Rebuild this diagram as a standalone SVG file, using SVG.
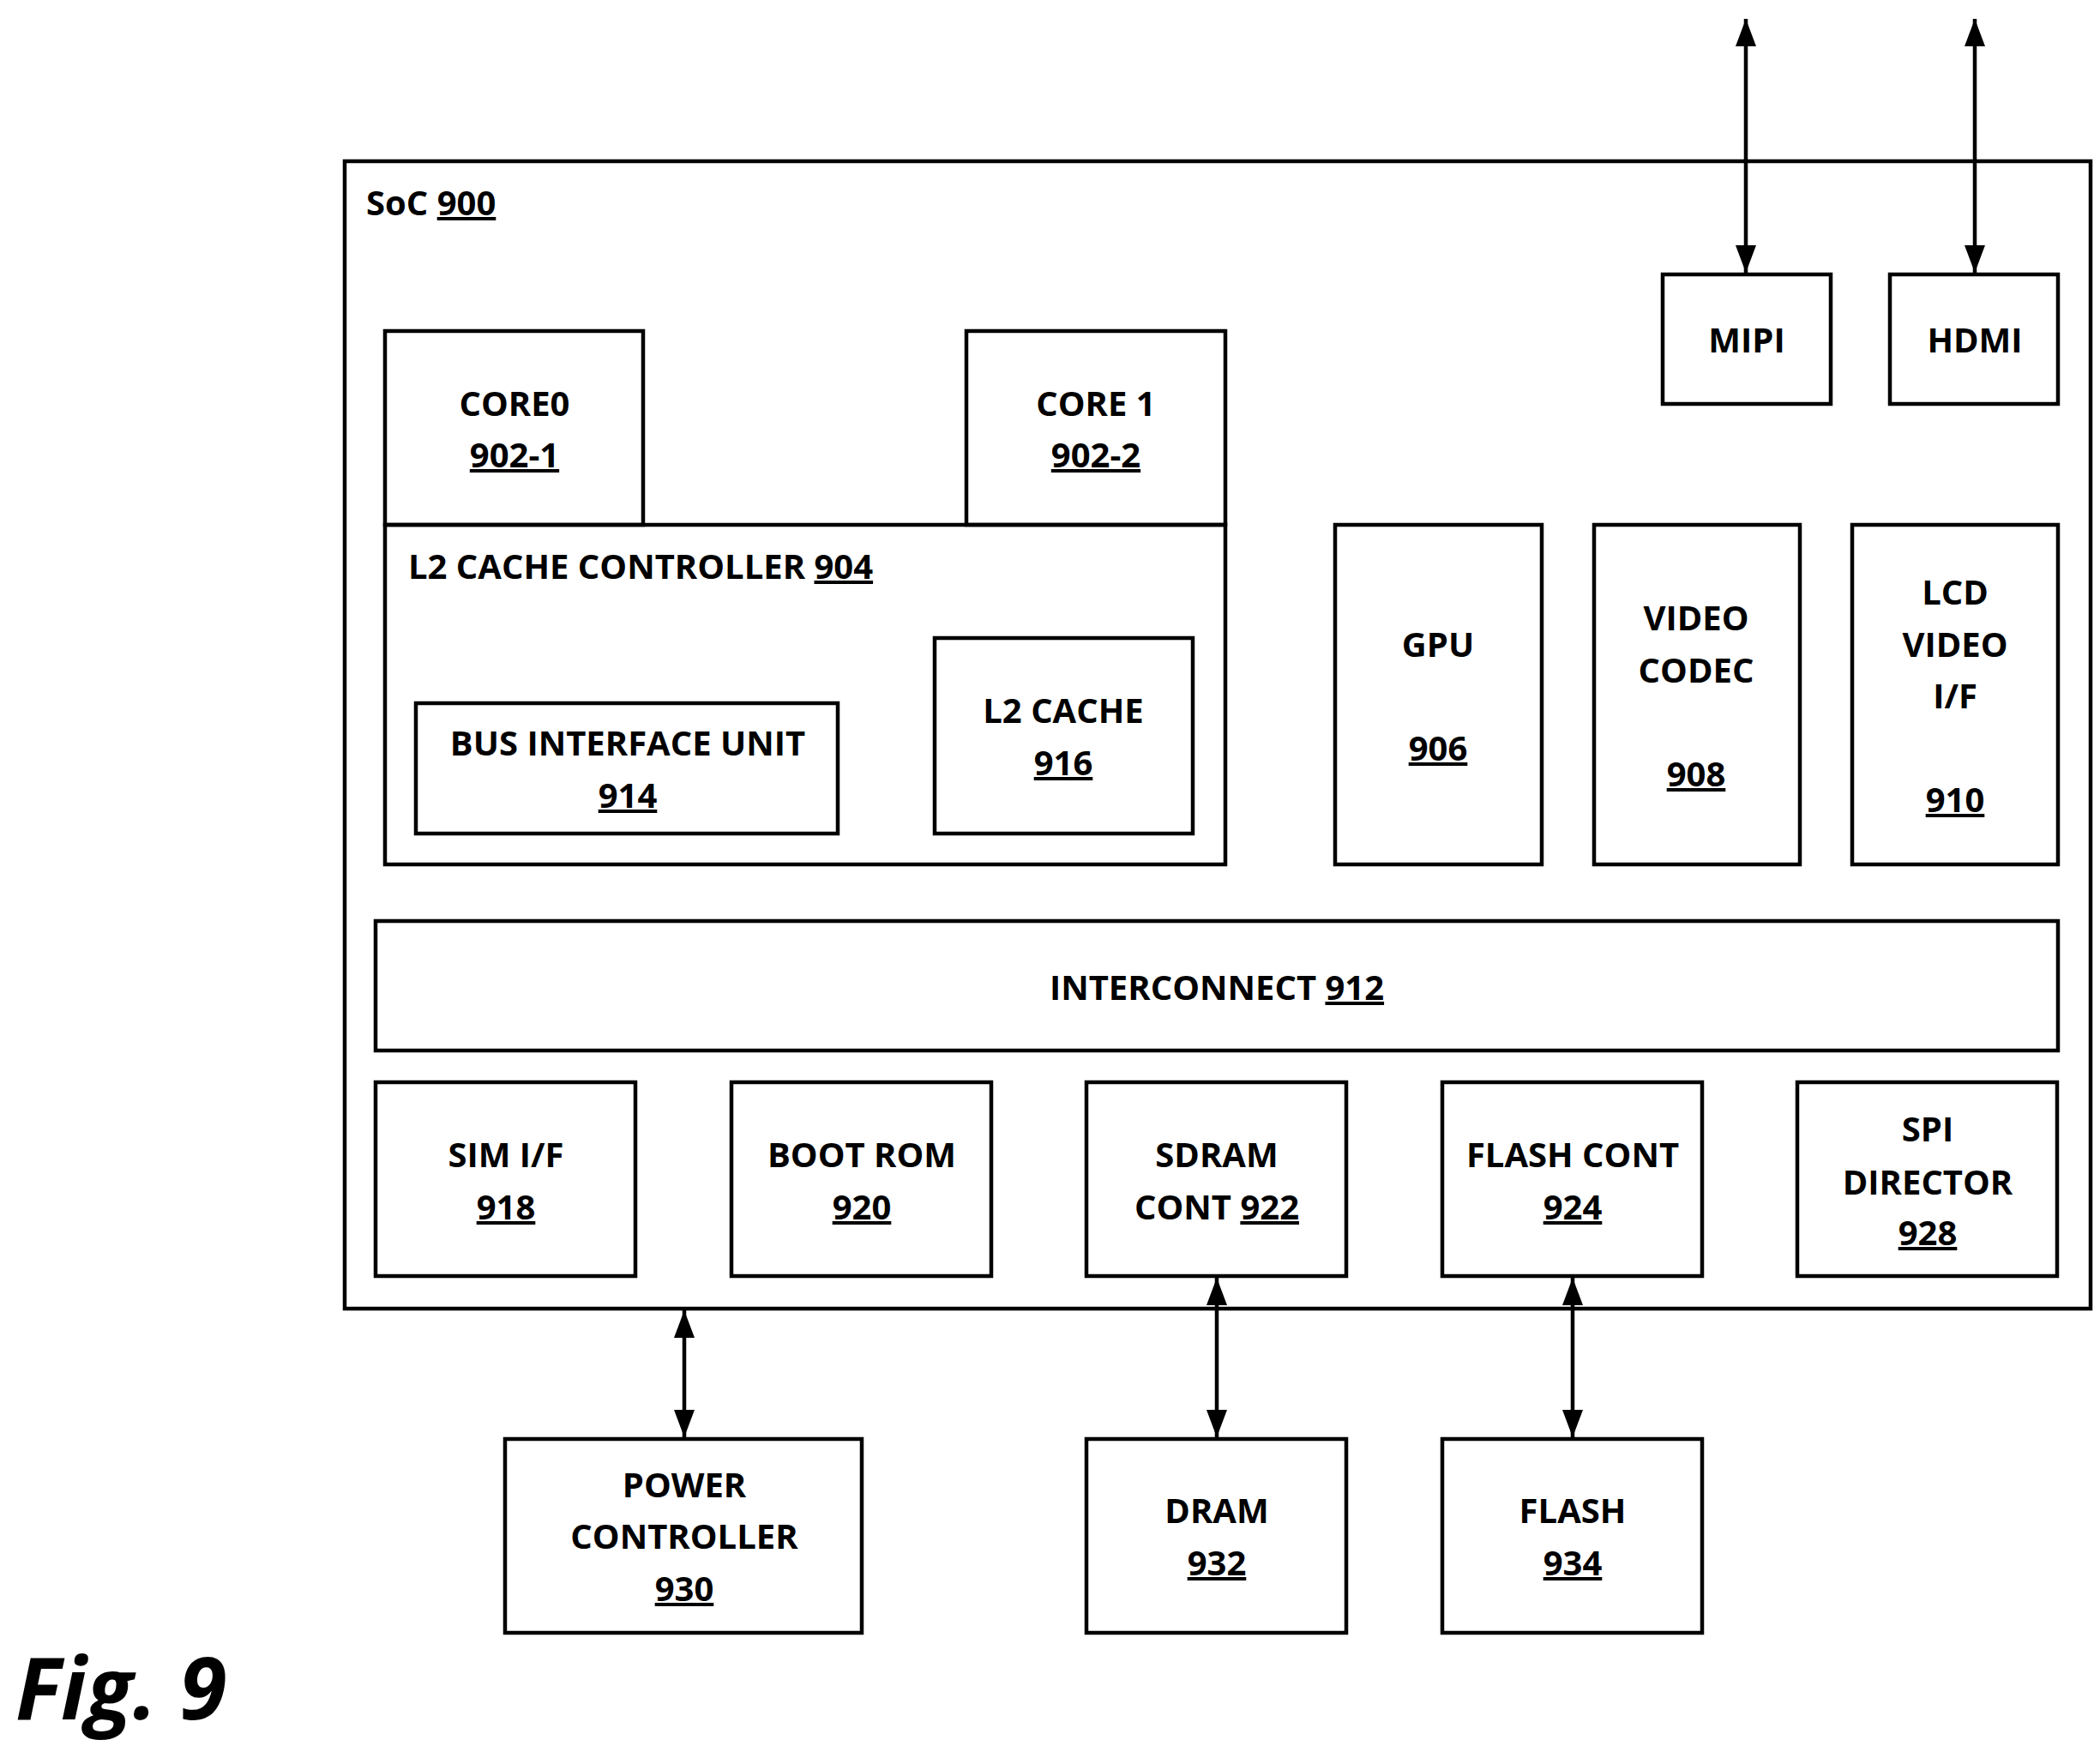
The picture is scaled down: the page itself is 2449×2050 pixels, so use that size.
<svg xmlns="http://www.w3.org/2000/svg" width="2449" height="2050" viewBox="0 0 2449 2050">
<style>
rect{fill:none;stroke:#000;stroke-width:4.5}
text{font-family:"Open Sans","Liberation Sans",sans-serif;font-weight:bold;font-size:40px;fill:#000;text-anchor:middle}
.u{text-decoration:underline}
.l{text-anchor:start}
line{stroke:#000;stroke-width:4.5}
</style>
<defs>
<marker id="a" viewBox="0 0 10 10" refX="9" refY="5" markerWidth="8" markerHeight="8" markerUnits="userSpaceOnUse" orient="auto-start-reverse" style="overflow:visible">
<path d="M0,0 L10,5 L0,10 z" fill="#000" transform="scale(1)"/>
</marker>
<marker id="b" viewBox="0 0 32 24" refX="32" refY="12" markerWidth="32" markerHeight="24" markerUnits="userSpaceOnUse" orient="auto-start-reverse">
<path d="M0,0 L32,12 L0,24 z" fill="#000"/>
</marker>
</defs>
<rect fill="#fff" width="2449" height="2050" style="fill:#fff;stroke:none"/>
<g id="soc"><rect x="402" y="188" width="2036" height="1338"/><text class="l" x="427" y="251">SoC <tspan class="u">900</tspan></text></g>
<g id="core0"><rect x="449" y="386" width="301" height="226"/><text x="600" y="485">CORE0</text><text x="600" y="545" class="u">902-1</text></g>
<g id="core1"><rect x="1127" y="386" width="302" height="226"/><text x="1278" y="485">CORE 1</text><text x="1278" y="545" class="u">902-2</text></g>
<g id="l2cc"><rect x="449" y="612" width="980" height="396"/><text class="l" x="476" y="675">L2 CACHE CONTROLLER <tspan class="u">904</tspan></text></g>
<g id="biu"><rect x="485" y="820" width="492" height="152"/><text x="732" y="881">BUS INTERFACE UNIT</text><text x="732" y="942" class="u">914</text></g>
<g id="l2"><rect x="1090" y="744" width="301" height="228"/><text x="1240" y="843">L2 CACHE</text><text x="1240" y="904" class="u">916</text></g>
<g id="gpu"><rect x="1557" y="612" width="241" height="396"/><text x="1677" y="766">GPU</text><text x="1677" y="887" class="u">906</text></g>
<g id="vc"><rect x="1859" y="612" width="240" height="396"/><text x="1978" y="735">VIDEO</text><text x="1978" y="796">CODEC</text><text x="1978" y="917" class="u">908</text></g>
<g id="lcd"><rect x="2160" y="612" width="240" height="396"/><text x="2280" y="705">LCD</text><text x="2280" y="766">VIDEO</text><text x="2280" y="826">I/F</text><text x="2280" y="947" class="u">910</text></g>
<g id="mipi"><rect x="1939" y="320" width="196" height="151"/><text x="2037" y="411">MIPI</text></g>
<g id="hdmi"><rect x="2204" y="320" width="196" height="151"/><text x="2303" y="411">HDMI</text></g>
<g id="ic"><rect x="438" y="1074" width="1962" height="151"/><text x="1419" y="1166">INTERCONNECT <tspan class="u">912</tspan></text></g>
<g id="sim"><rect x="438" y="1262" width="303" height="226"/><text x="590" y="1361">SIM I/F</text><text x="590" y="1422" class="u">918</text></g>
<g id="boot"><rect x="853" y="1262" width="303" height="226"/><text x="1005" y="1361">BOOT ROM</text><text x="1005" y="1422" class="u">920</text></g>
<g id="sdram"><rect x="1267" y="1262" width="303" height="226"/><text x="1419" y="1361">SDRAM</text><text x="1419" y="1422">CONT <tspan class="u">922</tspan></text></g>
<g id="fc"><rect x="1682" y="1262" width="303" height="226"/><text x="1834" y="1361">FLASH CONT</text><text x="1834" y="1422" class="u">924</text></g>
<g id="spi"><rect x="2096" y="1262" width="303" height="226"/><text x="2248" y="1331">SPI</text><text x="2248" y="1393">DIRECTOR</text><text x="2248" y="1452" class="u">928</text></g>
<g id="pc"><rect x="589" y="1678" width="416" height="226"/><text x="798" y="1746">POWER</text><text x="798" y="1806">CONTROLLER</text><text x="798" y="1867" class="u">930</text></g>
<g id="dram"><rect x="1267" y="1678" width="303" height="226"/><text x="1419" y="1776">DRAM</text><text x="1419" y="1837" class="u">932</text></g>
<g id="flash"><rect x="1682" y="1678" width="303" height="226"/><text x="1834" y="1776">FLASH</text><text x="1834" y="1837" class="u">934</text></g>
<g id="connectors">
<line x1="2036" y1="22" x2="2036" y2="318" marker-start="url(#b)" marker-end="url(#b)"/>
<line x1="2303" y1="22" x2="2303" y2="318" marker-start="url(#b)" marker-end="url(#b)"/>
<line x1="798" y1="1528" x2="798" y2="1676" marker-start="url(#b)" marker-end="url(#b)"/>
<line x1="1419" y1="1490" x2="1419" y2="1676" marker-start="url(#b)" marker-end="url(#b)"/>
<line x1="1834" y1="1490" x2="1834" y2="1676" marker-start="url(#b)" marker-end="url(#b)"/>
</g>
<text x="18" y="2005" class="l" style="font-size:100px;font-style:italic">Fig. 9</text>
</svg>
